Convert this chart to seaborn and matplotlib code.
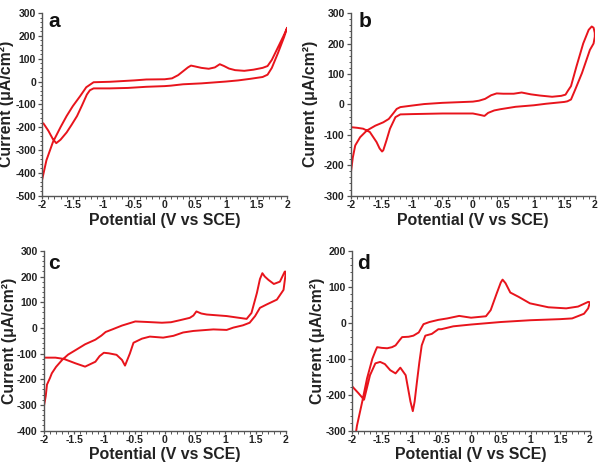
import numpy as np
import pandas as pd
import matplotlib
matplotlib.use("Agg")
import matplotlib.pyplot as plt
import seaborn as sns
from matplotlib.ticker import MultipleLocator, AutoMinorLocator, FuncFormatter

# cyclic voltammograms, potential (V vs SCE) and current (uA/cm2), traced in scan order
a_v = [-2.0, -1.93, -1.825, -1.7, -1.6, -1.5, -1.38, -1.28, -1.16, -0.89, -0.5, -0.3, 0.0, 0.12, 0.22,
       0.3, 0.38, 0.43, 0.5, 0.6, 0.72, 0.82, 0.9, 0.97, 1.05, 1.15, 1.3, 1.45, 1.6, 1.68, 1.75, 1.85,
       1.95, 2.0, 1.95, 1.85, 1.75, 1.68, 1.6, 1.4, 1.2, 1.0, 0.6, 0.3, 0.1, 0.0, -0.3, -0.6, -0.9,
       -1.16, -1.22, -1.27, -1.35, -1.43, -1.52, -1.6, -1.7, -1.77, -1.825, -1.9, -1.98]
a_i = [-430, -345, -266, -200, -151, -108, -64, -25, -3, -1, 5, 9, 10, 14, 28,
       45, 62, 70, 66, 60, 56, 62, 76, 68, 57, 50, 47, 52, 60, 68, 95, 150,
       205, 236, 195, 125, 60, 30, 20, 12, 5, 0, -8, -12, -18, -20, -23, -28, -30,
       -30, -38, -57, -105, -151, -190, -223, -255, -270, -252, -215, -183]

b_v = [-2.0, -1.97, -1.93, -1.85, -1.74, -1.6, -1.47, -1.38, -1.3, -1.25, -1.19, -1.0, -0.8, -0.5,
       0.0, 0.1, 0.2, 0.3, 0.39, 0.5, 0.67, 0.8, 0.95, 1.1, 1.3, 1.45, 1.52, 1.56, 1.61, 1.7, 1.81,
       1.9, 1.95, 1.98, 2.0, 2.0, 1.98, 1.92, 1.79, 1.68, 1.61, 1.55, 1.5, 1.2, 1.0, 0.7, 0.45, 0.35,
       0.25, 0.19, 0.1, 0.0, -0.5, -1.0, -1.19, -1.27, -1.36, -1.42, -1.47, -1.49, -1.53, -1.58,
       -1.69, -1.8, -1.9, -2.0]
b_i = [-222, -175, -135, -108, -86, -70, -59, -48, -28, -15, -9, -4, 1, 5,
       9, 12, 18, 30, 36, 35, 35, 39, 33, 29, 25, 28, 32, 45, 60, 125, 200,
       245, 256, 252, 235, 222, 200, 179, 103, 49, 16, 10, 8, 2, -3, -8, -16, -20,
       -28, -38, -34, -30, -30, -32, -33, -42, -80, -120, -151, -155, -145, -124,
       -91, -80, -77, -75]

c_v = [-2.0, -1.97, -1.95, -1.9, -1.87, -1.8, -1.7, -1.6, -1.48, -1.32, -1.15, -1.05, -0.98, -0.87,
       -0.71, -0.6, -0.49, -0.3, -0.05, 0.1, 0.25, 0.41, 0.47, 0.52, 0.6, 0.69, 1.02, 1.2, 1.35,
       1.43, 1.52, 1.57, 1.61, 1.65, 1.71, 1.8, 1.9, 1.98, 2.0, 1.96, 1.85, 1.68, 1.57, 1.49, 1.4,
       1.29, 1.13, 1.02, 0.8, 0.47, 0.3, 0.14, -0.03, -0.25, -0.38, -0.52, -0.58, -0.66, -0.71,
       -0.8, -0.93, -1.01, -1.08, -1.15, -1.32, -1.48, -1.67, -1.81, -1.98]
c_i = [-305, -265, -221, -195, -177, -152, -125, -104, -87, -64, -46, -30, -16, -6,
       9, 17, 25, 23, 20, 22, 30, 39, 48, 64, 56, 52, 46, 40, 35,
       58, 136, 190, 213, 200, 187, 171, 180, 219, 219, 148, 110, 91, 78, 46, 20,
       10, 1, -8, -6, -12, -18, -31, -38, -34, -42, -58, -100, -147, -125,
       -105, -99, -97, -110, -132, -151, -138, -121, -116, -116]

d_v = [-1.94, -1.92, -1.83, -1.75, -1.66, -1.6, -1.58, -1.5, -1.41, -1.33, -1.27, -1.2, -1.16, -1.05,
       -0.97, -0.88, -0.8, -0.7, -0.55, -0.4, -0.2, 0.0, 0.25, 0.33, 0.43, 0.5, 0.53, 0.58, 0.66,
       0.8, 0.99, 1.3, 1.6, 1.8, 1.97, 2.0, 1.97, 1.9, 1.7, 1.5, 1.0, 0.5, 0.0, -0.3, -0.5, -0.55,
       -0.66, -0.77, -0.83, -0.87, -0.91, -0.95, -0.98, -1.02, -1.1, -1.19, -1.27, -1.36, -1.45,
       -1.53, -1.61, -1.7, -1.8, -1.9, -2.0]
d_i = [-310, -287, -219, -155, -100, -75, -68, -70, -71, -68, -63, -48, -40, -39,
       -36, -27, -4, 2, 8, 12, 19, 14, 18, 35, 81, 112, 120, 110, 84,
       72, 54, 43, 40, 45, 58, 57, 40, 25, 12, 10, 7, 2, -5, -10, -18, -18,
       -31, -36, -63, -110, -164, -220, -246, -219, -146, -125, -141, -132, -115,
       -109, -113, -146, -214, -195, -177]

panel_labels = ["a", "b", "c", "d"]
y_limits = [(-500, 300), (-300, 300), (-400, 300), (-300, 200)]
x_ticks = [-2, -1.5, -1, -0.5, 0, 0.5, 1, 1.5, 2]

sns.set_style("ticks")
plt.rcParams["font.family"] = ["Liberation Sans", "DejaVu Sans"]
plt.rcParams["axes.unicode_minus"] = False

fig = plt.figure(figsize=(6.02, 4.68), dpi=100)
boxes = [
    [0.070, 0.582, 0.407, 0.390],
    [0.583, 0.582, 0.405, 0.390],
    [0.073, 0.080, 0.402, 0.384],
    [0.585, 0.080, 0.395, 0.384],
]
ylab_x = [-0.114, -0.135, -0.112, -0.113]
xlab_y = [-0.097, -0.097, -0.092, -0.092]
lab_pos = [(0.025, 0.924), (0.03, 0.925), (0.017, 0.90), (0.02, 0.90)]

curves = [(a_v, a_i), (b_v, b_i), (c_v, c_i), (d_v, d_i)]
spine_col = "#555555"

for k, (v, i) in enumerate(curves):
    ax = fig.add_axes(boxes[k])
    df = pd.DataFrame({"v": v, "i": i})
    sns.lineplot(data=df, x="v", y="i", sort=False, estimator=None,
                 color="#e8141c", lw=1.4, ax=ax)
    ax.set_xlim(-2, 2)
    ax.set_ylim(*y_limits[k])
    ax.set_xticks(x_ticks)
    ax.yaxis.set_major_locator(MultipleLocator(100))
    ax.xaxis.set_minor_locator(AutoMinorLocator(5))
    ax.yaxis.set_minor_locator(AutoMinorLocator(5))
    ax.xaxis.set_major_formatter(FuncFormatter(lambda x, p: f"{x:g}"))
    ax.yaxis.set_major_formatter(FuncFormatter(lambda x, p: f"{x:g}"))
    sns.despine(ax=ax)
    for s in ["left", "bottom"]:
        ax.spines[s].set_color(spine_col)
        ax.spines[s].set_linewidth(1.0)
    ax.tick_params(which="major", length=3, width=0.9, color=spine_col, pad=1.5,
                   labelsize=7.5, labelcolor="#222222")
    ax.tick_params(axis="x", which="major", length=2.5, pad=0.5)
    ax.tick_params(which="minor", length=1.8, width=0.7, color=spine_col)
    for lab in ax.get_xticklabels() + ax.get_yticklabels():
        lab.set_fontweight("bold")
    ax.set_xlabel("Potential (V vs SCE)", fontsize=11.4, fontweight="bold", color="#222222")
    ax.set_ylabel("Current (μA/cm²)", fontsize=11.4, fontweight="bold", color="#222222")
    ax.xaxis.set_label_coords(0.5, xlab_y[k])
    ax.yaxis.set_label_coords(ylab_x[k], 0.5)
    ax.text(lab_pos[k][0], lab_pos[k][1], panel_labels[k], transform=ax.transAxes,
            fontsize=15, fontweight="bold", color="#111111", va="baseline", ha="left")

fig.savefig("out.png", dpi=100)
